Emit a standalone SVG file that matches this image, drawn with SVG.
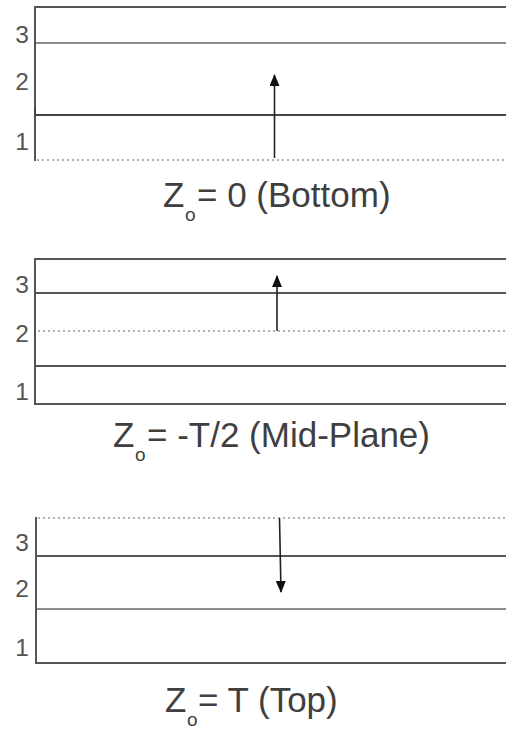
<svg xmlns="http://www.w3.org/2000/svg" width="506" height="736" viewBox="0 0 506 736">
<defs>
<marker id="ah" viewBox="0 0 12 10" refX="11" refY="5" markerWidth="13" markerHeight="10" markerUnits="userSpaceOnUse" orient="auto">
<path d="M0,0 L12,5 L0,10 Z" fill="#111"/>
</marker>
<style>
.edge{stroke:#555;stroke-width:2;fill:none}
.thin{stroke:#666;stroke-width:1.5;fill:none}
.dark{stroke:#444;stroke-width:2;fill:none}
.dot{stroke:#999;stroke-width:1.5;stroke-dasharray:2 3;fill:none}
.arrow{stroke:#222;stroke-width:1.6;fill:none}
text{font-family:"Liberation Sans",Arial,sans-serif}
.num{font-size:24.5px;fill:#555;text-anchor:end}
.lbl{font-size:35px;fill:#3f3f3f}
.sub{font-size:19px;fill:#3f3f3f}
</style>
</defs>
<rect width="506" height="736" fill="#fff"/>

<g id="panel-bottom">
<line class="edge" x1="35" y1="7" x2="506" y2="7"/>
<line class="thin" x1="35" y1="43" x2="506" y2="43"/>
<line class="dark" x1="35" y1="115" x2="506" y2="115"/>
<line class="dot" x1="37" y1="160" x2="506" y2="160"/>
<line class="edge" x1="35" y1="6" x2="35" y2="161"/>
<line class="dark" x1="35" y1="108" x2="35" y2="116" stroke-width="2.5"/>
<text class="num" x="29" y="43">3</text>
<text class="num" x="29" y="90">2</text>
<text class="num" x="29" y="150">1</text>
<text class="lbl" x="163" y="206.5">Z</text>
<text class="sub" x="185" y="221">o</text>
<text class="lbl" x="197" y="206.5">= 0 (Bottom)</text>
</g>

<g id="panel-mid">
<line class="edge" x1="35" y1="259" x2="506" y2="259"/>
<line class="edge" x1="35" y1="293" x2="506" y2="293"/>
<line class="dot" x1="38" y1="331" x2="506" y2="331"/>
<line class="edge" x1="35" y1="366" x2="506" y2="366"/>
<line class="edge" x1="35" y1="404" x2="506" y2="404"/>
<line class="edge" x1="35" y1="258" x2="35" y2="405"/>
<text class="num" x="29" y="293">3</text>
<text class="num" x="29" y="341.5">2</text>
<text class="num" x="29" y="400">1</text>
<text class="lbl" x="113" y="446.5">Z</text>
<text class="sub" x="135" y="461">o</text>
<text class="lbl" x="147" y="446.5">= -T/2 (Mid-Plane)</text>
</g>

<g id="panel-top">
<line class="dot" x1="38" y1="518" x2="506" y2="518"/>
<line class="edge" x1="36" y1="556" x2="506" y2="556"/>
<line class="thin" x1="36" y1="609" x2="506" y2="609"/>
<line class="edge" x1="36" y1="663" x2="506" y2="663"/>
<line class="edge" x1="36" y1="517" x2="36" y2="664"/>
<text class="num" x="29" y="551">3</text>
<text class="num" x="29" y="596.5">2</text>
<text class="num" x="29" y="656">1</text>
<text class="lbl" x="165" y="711.5">Z</text>
<text class="sub" x="187" y="726">o</text>
<text class="lbl" x="198" y="711.5">= T (Top)</text>
</g>

<g id="connectors">
<line class="arrow" x1="274.5" y1="158" x2="274.5" y2="75" marker-end="url(#ah)"/>
<line class="arrow" x1="277" y1="331" x2="277" y2="276" marker-end="url(#ah)"/>
<line class="arrow" x1="279.5" y1="518" x2="281" y2="592" marker-end="url(#ah)"/>
</g>
</svg>
